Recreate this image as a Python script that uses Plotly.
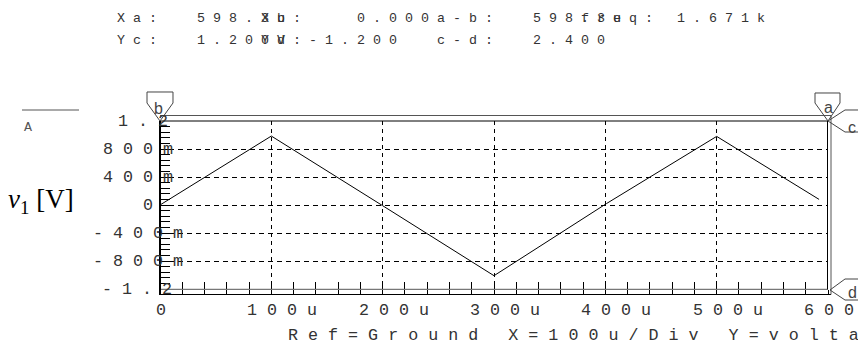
import plotly.graph_objects as go

# ---------------- data ----------------
time_us = [0, 100, 200, 300, 401, 500, 592]
v1 = [0.0, 0.985, -0.01, -1.01, 0.02, 0.98, 0.08]

x_tick_vals = [0, 100, 200, 300, 400, 500, 600]
x_tick_text = ["0", "100u", "200u", "300u", "400u", "500u", "600u"]
y_tick_vals = [1.2, 0.8, 0.4, 0, -0.4, -0.8, -1.2]
y_tick_text = ["1.2", "800m", "400m", "0", "-400m", "-800m", "-1.2"]

header_line1 = ["Xa:  598.3u", "Xb:   0.000", "a-b:  598.3u", "freq: 1.671k"]
header_line2 = ["Yc:  1.200V", "Yd:-1.200", "c-d:  2.400"]
footer_text = "Ref=Ground X=100u/Div Y=voltage"
y_title = "<i>v</i><sub>1</sub> [V]"
legend_text = "A"
cursor_names = ["b", "a", "c", "d"]

# ---------------- layout geometry (pixels) ----------------
W, H = 858, 344
L, R, T, B = 160, 30, 121, 55
PW, PH = W - L - R, H - T - B


def px(xp):
    return (xp - L) / PW


def py(yp):
    return (H - B - yp) / PH


NB = "\u00a0"


def spaced(s):
    return NB.join(NB if c == " " else c for c in s)


MONO = "Liberation Mono"
TXT = "#333333"

fig = go.Figure()
fig.add_trace(go.Scatter(x=time_us, y=v1, mode="lines",
                         line=dict(color="black", width=1),
                         hoverinfo="skip", showlegend=False))
# helper trace so the overlaid tick axis is drawn
fig.add_trace(go.Scatter(x=[0, 600], y=[0, 0], xaxis="x2", mode="lines",
                         line=dict(color="rgba(0,0,0,0)", width=1),
                         hoverinfo="skip", showlegend=False))

annotations = []

# header readouts
h1_start = [120, 264, 440, 584]
h2_start = [120, 264, 440]
for txt, c in zip(header_line1, h1_start):
    annotations.append(dict(text=spaced(txt), x=px(c - 4), y=py(19), xref="paper", yref="paper",
                            xanchor="left", yanchor="middle", showarrow=False, borderpad=0,
                            font=dict(family=MONO, size=13.33, color=TXT)))
for txt, c in zip(header_line2, h2_start):
    annotations.append(dict(text=spaced(txt), x=px(c - 4), y=py(41), xref="paper", yref="paper",
                            xanchor="left", yanchor="middle", showarrow=False, borderpad=0,
                            font=dict(family=MONO, size=13.33, color=TXT)))

# y tick labels
y_lab_first = [122, 107, 107, 147, 97, 97, 106]
for v, t, c in zip(y_tick_vals, y_tick_text, y_lab_first):
    annotations.append(dict(text=spaced(t), x=px(c - 5), y=v, xref="paper", yref="y",
                            xanchor="left", yanchor="middle", showarrow=False, borderpad=0,
                            font=dict(family=MONO, size=16.7, color=TXT)))

# x tick labels (number centred on the tick, unit appended)
for v, t in zip(x_tick_vals, x_tick_text):
    num = t.rstrip("u")
    shift = -(20 * len(num) - 10) / 2
    annotations.append(dict(text=spaced(t), x=v, y=py(310), xref="x", yref="paper",
                            xanchor="left", yanchor="middle", xshift=shift, showarrow=False,
                            borderpad=0, font=dict(family=MONO, size=16.7, color=TXT)))

# footer
annotations.append(dict(text=spaced(footer_text), x=px(287), y=py(335), xref="paper", yref="paper",
                        xanchor="left", yanchor="middle", showarrow=False, borderpad=0,
                        font=dict(family=MONO, size=16.7, color=TXT)))

# y axis title
annotations.append(dict(text=y_title, x=px(7), y=py(201), xref="paper", yref="paper",
                        xanchor="left", yanchor="middle", showarrow=False, borderpad=0,
                        font=dict(family="Liberation Serif", size=27, color="black")))

# legend "A"
annotations.append(dict(text=legend_text, x=px(23), y=py(127), xref="paper", yref="paper",
                        xanchor="left", yanchor="middle", showarrow=False, borderpad=0,
                        font=dict(family=MONO, size=13.33, color="#555")))

# cursor letters
cursor_pos = [(158, 108), (828, 107), (852, 127), (852, 292)]
for name, (cx, cy) in zip(cursor_names, cursor_pos):
    annotations.append(dict(text=name, x=px(cx), y=py(cy), xref="paper", yref="paper",
                            xanchor="center", yanchor="middle", showarrow=False, borderpad=0,
                            font=dict(family="Liberation Sans", size=16, color="#444")))

shapes = []


def pline(x0, y0, x1, y1, color="black", width=1):
    shapes.append(dict(type="line", xref="paper", yref="paper",
                       x0=px(x0), y0=py(y0), x1=px(x1), y1=py(y1),
                       line=dict(color=color, width=width)))


def ppath(points, closed=True, color="#444"):
    d = "M " + " L ".join(f"{px(a):.5f},{py(b):.5f}" for a, b in points)
    if closed:
        d += " Z"
    shapes.append(dict(type="path", xref="paper", yref="paper", path=d,
                       line=dict(color=color, width=1)))


# frame: outer and inner boxes
pline(160, 115.5, 831, 115.5, "#555")
pline(160, 294.5, 831, 294.5, "black")
pline(831, 115.5, 831, 294.5, "#555")
pline(160, 121, 828, 121, "black")
pline(160, 289.3, 828, 289.3, "#555")
pline(827.5, 121, 827.5, 289.3, "black")
pline(160, 121, 160, 295, "black", 2)

# legend overline
pline(22, 110, 79, 110, "#555")

# cursor tags
ppath([(147, 92), (173, 92), (173, 103), (160, 121), (147, 103)])
ppath([(815, 93), (840, 93), (840, 103), (828, 121), (815, 103)])
ppath([(862, 110), (845, 110), (828, 121), (845, 132), (862, 132)], closed=False)
ppath([(862, 279), (845, 279), (830, 290), (845, 300), (862, 300)], closed=False)

fig.update_layout(
    width=W, height=H,
    margin=dict(l=L, r=R, t=T, b=B, pad=0),
    paper_bgcolor="white", plot_bgcolor="white",
    showlegend=False,
    xaxis=dict(range=[0, 600], showline=False, zeroline=False,
               showgrid=True, gridcolor="black", gridwidth=1, griddash="4px,4px",
               tick0=0, dtick=100, ticks="inside", ticklen=7, tickcolor="black", tickwidth=1,
               minor=dict(tick0=0, dtick=20, ticks="inside", ticklen=7, tickcolor="black",
                          showgrid=False),
               showticklabels=False, fixedrange=True),
    xaxis2=dict(range=[0, 600], overlaying="x", anchor="y", side="bottom",
                showline=False, zeroline=False, showgrid=False,
                tick0=0, dtick=20, ticks="outside", ticklen=5, tickcolor="black", tickwidth=1,
                showticklabels=False, fixedrange=True),
    yaxis=dict(range=[-1.2, 1.2], showline=False, zeroline=False,
               showgrid=True, gridcolor="black", gridwidth=1, griddash="5px,4px",
               tick0=0, dtick=0.4, ticks="inside", ticklen=10, tickcolor="black", tickwidth=1,
               minor=dict(tick0=0, dtick=0.08, ticks="inside", ticklen=10, tickcolor="black",
                          showgrid=False),
               showticklabels=False, fixedrange=True),
    annotations=annotations,
    shapes=shapes,
)

fig.write_html("out.html", config={"displayModeBar": False, "staticPlot": True},
               post_script="document.body.style.margin='0';document.body.style.padding='0';")
